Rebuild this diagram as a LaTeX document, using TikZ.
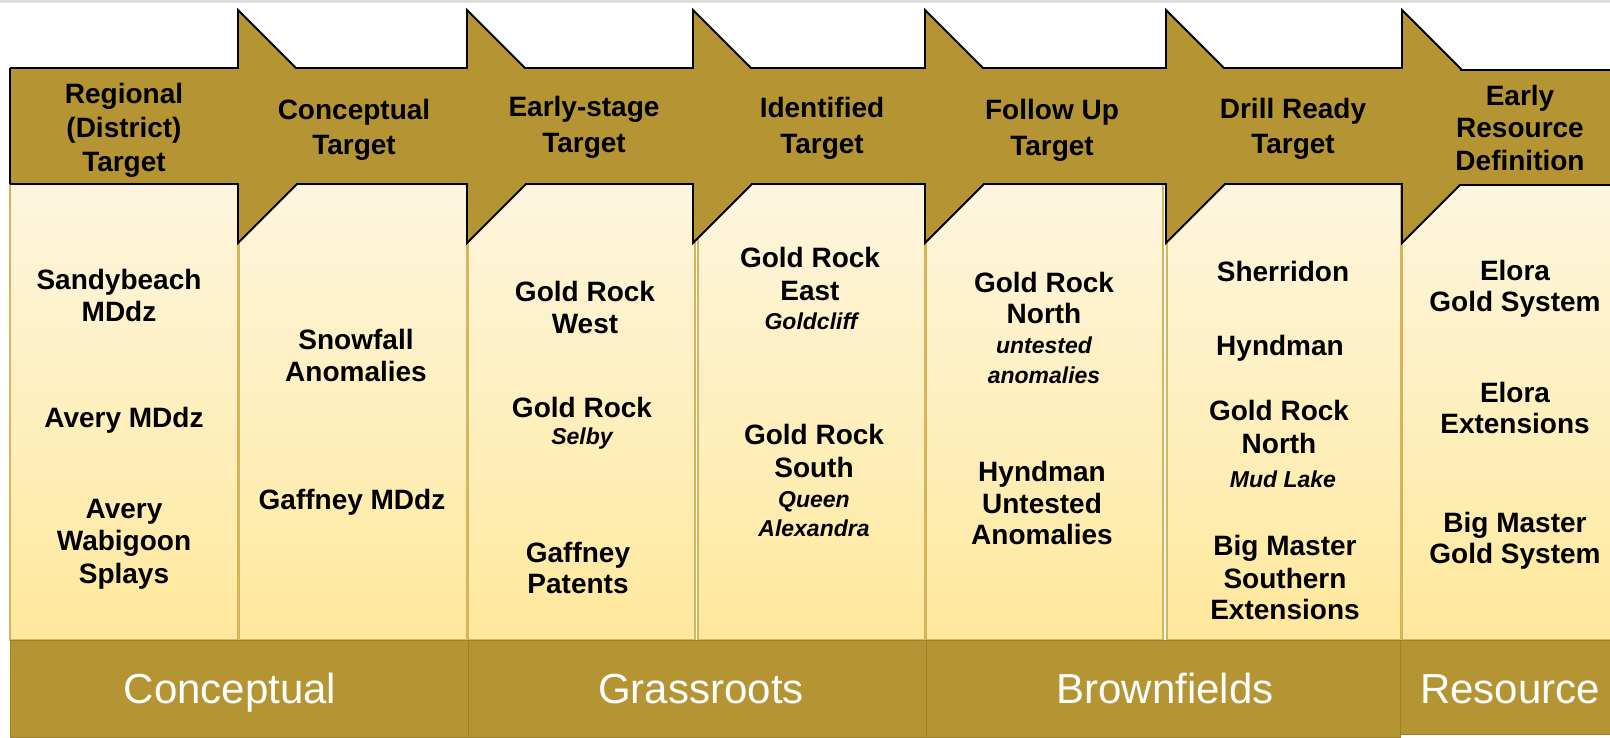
\documentclass[tikz,border=0pt]{standalone}
\usepackage{fontspec}
\setmainfont{Liberation Sans}
\definecolor{gold}{RGB}{181,149,51}
\definecolor{creamtop}{RGB}{253,246,224}
\definecolor{creambot}{RGB}{255,232,156}
\definecolor{celledge}{RGB}{214,180,92}
\definecolor{banddark}{RGB}{158,128,40}
\tikzset{
  arrowline/.style={draw=black,line width=1.8pt,line join=miter},
  cellbox/.style={top color=creamtop,bottom color=creambot,draw=celledge,line width=1.3pt},
  bandbox/.style={fill=gold,draw=banddark,line width=0.6pt},
  hdr/.style={anchor=base,inner sep=0pt,font=\bfseries\fontsize{28}{33}\selectfont},
  bodytxt/.style={anchor=base,inner sep=0pt,font=\bfseries\fontsize{28}{33}\selectfont},
  italtxt/.style={anchor=base,inner sep=0pt,font=\bfseries\itshape\fontsize{23}{28}\selectfont},
  bandtxt/.style={anchor=base,inner sep=0pt,text=white,font=\fontsize{42}{50}\selectfont},
}
% #1 body left, #2 head base
\newcommand\goldarrow[2]{%
  \fill[gold] (#1,68) -- (#2,68) -- (#2,10) -- ({#2+116.5},126.5) -- (#2,243) -- (#2,184) -- (#1,184) -- cycle;
  \draw[arrowline] (#1,68) -- (#2,68) -- (#2,10) -- ({#2+116.5},126.5) -- (#2,243) -- (#2,184) -- (#1,184);
}
\newcommand\bl[4]{\node[bodytxt] (#1) at (#2,#3) {#4};}
\newcommand\il[4]{\node[italtxt] (#1) at (#2,#3) {#4};}
\newcommand\hl[4]{\node[hdr] (#1) at (#2,#3) {#4};}
\begin{document}
\begin{tikzpicture}[x=1pt,y=-1pt]
\useasboundingbox (0,0) rectangle (1610,737);
\clip (0,0) rectangle (1610,737);
\fill[white] (0,0) rectangle (1610,737);
\fill[black!13] (0,0) rectangle (1610,2.5);

% cells
\path[cellbox] (10,180) rectangle (238,640);
\path[cellbox] (239,180) rectangle (467,640);
\path[cellbox] (468,180) rectangle (695,640);
\path[cellbox] (698,180) rectangle (925,640);
\path[cellbox] (926,180) rectangle (1163,640);
\path[cellbox] (1167,180) rectangle (1401,640);
\path[cellbox] (1402,180) rectangle (1620,640);

% bands
\path[bandbox] (10,640) rectangle (468,737);
\path[bandbox] (468,640) rectangle (926,737);
\path[bandbox] (926,640) rectangle (1400,737);
\path[bandbox] (1400,640) rectangle (1620,734);

% arrows
\goldarrow{10}{238}
\draw[arrowline] (10,68) -- (10,184);
\goldarrow{296}{467}
\goldarrow{525}{693}
\goldarrow{751}{925}
\goldarrow{983}{1166}
\goldarrow{1224}{1402}
\fill[gold] (1460,70) rectangle (1625,185);
\draw[arrowline] (1460,70) -- (1625,70);
\draw[arrowline] (1460,185) -- (1625,185);

% headers
\hl{h1a}{124}{103}{Regional}
\hl{h1b}{124}{137}{(District)}
\hl{h1c}{124}{171}{Target}
\hl{h2a}{354}{119}{Conceptual}
\hl{h2b}{354}{154}{Target}
\hl{h3a}{584}{116}{Early-stage}
\hl{h3b}{584}{152}{Target}
\hl{h4a}{822}{117}{Identified}
\hl{h4b}{822}{153}{Target}
\hl{h5a}{1052}{119}{Follow Up}
\hl{h5b}{1052}{155}{Target}
\hl{h6a}{1293}{118}{Drill Ready}
\hl{h6b}{1293}{153}{Target}
\hl{h7a}{1520}{105}{Early}
\hl{h7b}{1520}{137}{Resource}
\hl{h7c}{1520}{170}{Definition}

% column 1
\bl{c1a}{119}{289}{Sandybeach}
\bl{c1b}{119}{321}{MDdz}
\bl{c1c}{124}{427}{Avery MDdz}
\bl{c1d}{124}{518}{Avery}
\bl{c1e}{124}{550}{Wabigoon}
\bl{c1f}{124}{583}{Splays}
% column 2
\bl{c2a}{356}{349}{Snowfall}
\bl{c2b}{356}{381}{Anomalies}
\bl{c2c}{352}{509}{Gaffney MDdz}
% column 3
\bl{c3a}{585}{301}{Gold Rock}
\bl{c3b}{585}{333}{West}
\bl{c3c}{582}{417}{Gold Rock}
\il{c3d}{582}{444}{Selby}
\bl{c3e}{578}{562}{Gaffney}
\bl{c3f}{578}{593}{Patents}
% column 4
\bl{c4a}{810}{267}{Gold Rock}
\bl{c4b}{810}{300}{East}
\il{c4c}{811}{329}{Goldcliff}
\bl{c4d}{814}{444}{Gold Rock}
\bl{c4e}{814}{477}{South}
\il{c4f}{814}{507}{Queen}
\il{c4g}{814}{536}{Alexandra}
% column 5
\bl{c5a}{1044}{292}{Gold Rock}
\bl{c5b}{1044}{323}{North}
\il{c5c}{1044}{353}{untested}
\il{c5d}{1044}{383}{anomalies}
\bl{c5e}{1042}{481}{Hyndman}
\bl{c5f}{1042}{513}{Untested}
\bl{c5g}{1042}{544}{Anomalies}
% column 6
\bl{c6a}{1283}{281}{Sherridon}
\bl{c6b}{1280}{355}{Hyndman}
\bl{c6c}{1279}{420}{Gold Rock}
\bl{c6d}{1279}{453}{North}
\il{c6e}{1283}{487}{Mud Lake}
\bl{c6f}{1285}{555}{Big Master}
\bl{c6g}{1285}{588}{Southern}
\bl{c6h}{1285}{619}{Extensions}
% column 7
\bl{c7a}{1515}{280}{Elora}
\bl{c7b}{1515}{311}{Gold System}
\bl{c7c}{1515}{402}{Elora}
\bl{c7d}{1515}{433}{Extensions}
\bl{c7e}{1515}{532}{Big Master}
\bl{c7f}{1515}{563}{Gold System}

% bands text
\node[bandtxt] (b1) at (230,703) {Conceptual};
\node[bandtxt] (b2) at (701,703) {Grassroots};
\node[bandtxt] (b3) at (1165,703) {Brownfields};
\node[bandtxt] (b4) at (1510,703) {Resource};
\end{tikzpicture}
\end{document}
